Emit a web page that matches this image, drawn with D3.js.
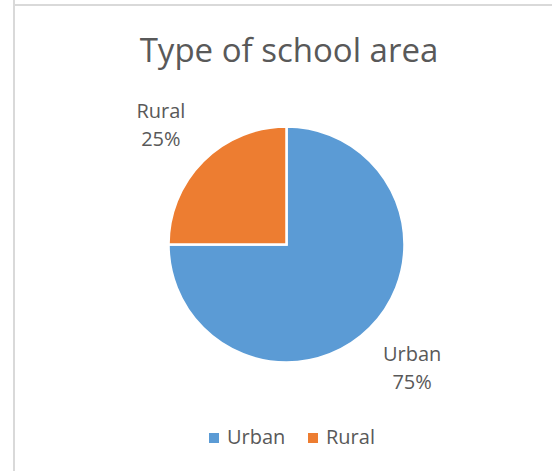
<!DOCTYPE html>
<html>
<head>
<meta charset="utf-8">
<script src="https://cdn.jsdelivr.net/npm/d3@7/dist/d3.min.js"></script>
<style>
  html, body { margin: 0; padding: 0; background: #ffffff; }
  svg { display: block; }
  text { font-family: "Open Sans", sans-serif; fill: #595959; }
</style>
</head>
<body>
<svg id="chart" width="552" height="471"></svg>
<script>
const title = "Type of school area";
const categories = ["Urban", "Rural"];
const values = [75, 25];
const colors = ["#5B9BD5", "#ED7D31"];

const svg = d3.select("#chart");
const W = 552, H = 471;

// frame lines
svg.append("rect").attr("x", 13).attr("y", 0).attr("width", 2).attr("height", H).attr("fill", "#d9d9d9");
svg.append("rect").attr("x", 13).attr("y", 4).attr("width", W - 13).attr("height", 2).attr("fill", "#d9d9d9");

// title
svg.append("text")
  .attr("x", 289).attr("y", 62)
  .attr("text-anchor", "middle")
  .style("font-size", "33px")
  .text(title);

const cx = 286.5, cy = 244.5, R = 118;
const data = categories.map((c, i) => ({ cat: c, value: values[i], color: colors[i] }));
const pie = d3.pie().value(d => d.value).sort(null);
const arcs = pie(data);
const arc = d3.arc().innerRadius(0).outerRadius(R);
const labelArc = d3.arc().innerRadius(172).outerRadius(172);
const total = d3.sum(values);

const g = svg.append("g").attr("transform", `translate(${cx},${cy})`);
g.selectAll("path").data(arcs).join("path")
  .attr("d", arc)
  .attr("fill", d => d.data.color)
  .attr("stroke", "#ffffff")
  .attr("stroke-width", 2.5)
  .attr("stroke-linejoin", "miter");

const labels = g.selectAll("g.lbl").data(arcs).join("g").attr("class", "lbl")
  .attr("transform", d => {
    const [x, y] = labelArc.centroid(d);
    return `translate(${x + Math.sign(x) * 4},${y + 1})`;
  });
labels.append("text").attr("text-anchor", "middle").attr("y", -6).style("font-size", "20px")
  .text(d => d.data.cat);
labels.append("text").attr("text-anchor", "middle").attr("y", 22).style("font-size", "20px")
  .text(d => Math.round(d.data.value / total * 100) + "%");

// legend
const legendX = [209, 308];
const lg = svg.append("g");
data.forEach((d, i) => {
  lg.append("rect").attr("x", legendX[i]).attr("y", 433).attr("width", 10).attr("height", 10).attr("fill", d.color);
  lg.append("text").attr("x", legendX[i] + 18).attr("y", 444).style("font-size", "20px").text(d.cat);
});
</script>
</body>
</html>
